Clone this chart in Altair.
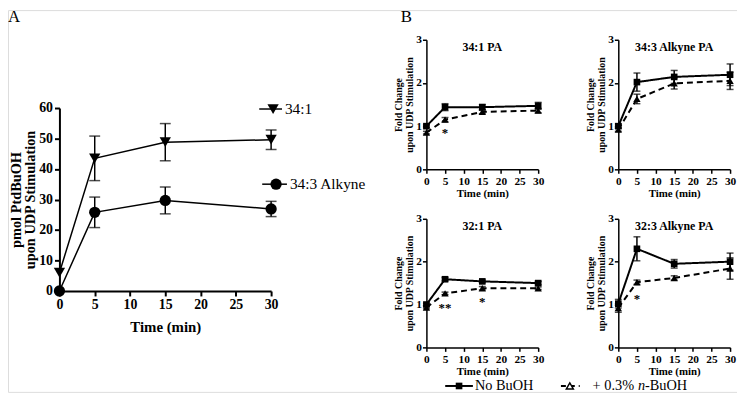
import altair as alt
import pandas as pd

SERIF = "Liberation Serif"
W, H = 737, 386   # whole drawing (page coords minus the 8px margin)

# ---------------- Panel A data ----------------
a_time = [0, 5, 15, 30]
a_series = ["34:1", "34:3 Alkyne"]
a_341_mean = [6.0, 43.5, 48.8, 49.6]
a_341_err = [0.0, 7.3, 6.1, 3.2]
a_343_mean = [0.0, 25.8, 29.7, 26.9]
a_343_err = [0.0, 5.0, 4.4, 2.5]

# ---------------- Panel B data ----------------
b_time = [0, 5, 15, 30]
b_groups = ["No BuOH", "+ 0.3% n-BuOH"]
b_titles = ["34:1 PA", "34:3 Alkyne PA", "32:1 PA", "32:3 Alkyne PA"]
b_no_mean = [[1.0, 1.44, 1.44, 1.47], [1.0, 2.02, 2.14, 2.19],
             [1.0, 1.59, 1.54, 1.50], [1.02, 2.30, 1.95, 2.00]]
b_no_err = [[0.03, 0.08, 0.06, 0.08], [0.05, 0.21, 0.15, 0.25],
            [0.03, 0.04, 0.03, 0.04], [0.10, 0.28, 0.10, 0.20]]
b_bu_mean = [[0.85, 1.15, 1.33, 1.36], [0.92, 1.63, 1.99, 2.05],
             [0.93, 1.26, 1.38, 1.38], [0.92, 1.52, 1.62, 1.84]]
b_bu_err = [[0.03, 0.05, 0.04, 0.05], [0.04, 0.11, 0.13, 0.20],
            [0.03, 0.03, 0.04, 0.03], [0.10, 0.05, 0.05, 0.25]]
star_panel = [0, 2, 2, 3]
star_time = [5, 5, 15, 5]
star_y = [0.93, 1.02, 1.15, 1.22]
star_text = ["*", "**", "*", "*"]

one = pd.DataFrame({"k": [0]})

# plot-area frames inside the drawing: (left, right, bottom, top)
FRAME_A = (52, 266, 284, 99)
FRAMES_B = [(423, 536, 161, 30), (617, 730, 161, 30),
            (423, 536, 341, 211), (617, 730, 341, 211)]


def label(text, x, y, size, align="left", baseline="middle", weight="normal", style="normal"):
    return alt.Chart(one).mark_text(text=text, align=align, baseline=baseline, font=SERIF,
                                    fontSize=size, fontWeight=weight, fontStyle=style,
                                    color="black").encode(x=alt.value(x), y=alt.value(y))


def axis_common(**kw):
    base = dict(labelFont=SERIF, labelFontWeight="bold", titleFont=SERIF, titleFontWeight="bold",
                domainColor="black", tickColor="black", labelColor="black", titleColor="black",
                grid=False, labelFlush=False, labelOverlap=False)
    base.update(kw)
    return alt.Axis(**base)


# ---------------- Panel A ----------------
rowsA = []
for s, means, errs in [(a_series[0], a_341_mean, a_341_err),
                       (a_series[1], a_343_mean, a_343_err)]:
    for t, m, e in zip(a_time, means, errs):
        rowsA.append({"time": t, "value": m, "lo": m - e, "hi": m + e,
                      "err": e, "series": s})
dfA = pd.DataFrame(rowsA)

L, R, B, T = FRAME_A
axA_x = axis_common(orient="bottom", offset=B - H, values=[0, 5, 10, 15, 20, 25, 30],
                    title="Time (min)", labelFontSize=14, titleFontSize=15,
                    domainWidth=2, tickWidth=2, tickSize=5, labelPadding=2, titlePadding=8)
axA_y = axis_common(orient="left", offset=-L, values=[0, 10, 20, 30, 40, 50, 60],
                    title=["pmol PtdBuOH", "upon UDP Stimulation"],
                    labelFontSize=14, titleFontSize=14.5, titleLineHeight=14,
                    domainWidth=2, tickWidth=2, tickSize=5, labelPadding=2, titlePadding=1)


def xA():
    return alt.X("time:Q", scale=alt.Scale(domain=[0, 30], range=[L, R], nice=False), axis=axA_x)


def yA(field):
    return alt.Y(field, scale=alt.Scale(domain=[0, 60], range=[B, T], nice=False), axis=axA_y)


baseA = alt.Chart(dfA).encode(x=xA())
lineA = baseA.mark_line(color="black", strokeWidth=1.5).encode(y=yA("value:Q"), detail="series:N")
errA = baseA.transform_filter("datum.err > 0").mark_rule(color="black", strokeWidth=1.5).encode(
    y=yA("lo:Q"), y2="hi:Q")
capLoA = baseA.transform_filter("datum.err > 0").mark_tick(
    orient="horizontal", color="black", thickness=1.5, size=11).encode(y=yA("lo:Q"))
capHiA = baseA.transform_filter("datum.err > 0").mark_tick(
    orient="horizontal", color="black", thickness=1.5, size=11).encode(y=yA("hi:Q"))
ptsA = baseA.mark_point(filled=True, color="black", opacity=1, size=130).encode(
    y=yA("value:Q"),
    shape=alt.Shape("series:N", scale=alt.Scale(domain=a_series, range=["triangle-down", "circle"]),
                    legend=None))

legA = [label("A", 0, 12, 17, baseline="alphabetic")]
for yy, x0, x1, xs, shp, lab in [(100, 254, 277, 268, "triangle-down", a_series[0]),
                                 (176, 257, 282, 271, "circle", a_series[1])]:
    legA.append(alt.Chart(one).mark_rule(color="black", strokeWidth=1.5).encode(
        x=alt.value(x0), x2=alt.value(x1), y=alt.value(yy)))
    legA.append(alt.Chart(one).mark_point(shape=shp, filled=True, color="black", opacity=1, size=130).encode(
        x=alt.value(xs), y=alt.value(yy)))
    legA.append(label(lab, x1 + 3, yy, 15.5))

panelA = alt.layer(lineA, errA, capLoA, capHiA, ptsA, *legA)


# ---------------- Panel B ----------------
def panel_b(i, extra=()):
    L, R, B, T = FRAMES_B[i]
    ax_x = axis_common(orient="bottom", offset=B - H, values=[0, 5, 10, 15, 20, 25, 30],
                       title="Time (min)", labelFontSize=11.5, titleFontSize=11,
                       domainWidth=1.5, tickWidth=1.5, tickSize=4, labelPadding=2, titlePadding=1)
    ax_y = axis_common(orient="left", offset=-L, values=[0, 1, 2, 3],
                       title=["Fold Change", "upon UDP Stimulation"],
                       labelFontSize=11.5, titleFontSize=10, titleLineHeight=11,
                       domainWidth=1.5, tickWidth=1.5, tickSize=4, labelPadding=1, titlePadding=1)

    def xB():
        return alt.X("time:Q", scale=alt.Scale(domain=[0, 30], range=[L, R], nice=False), axis=ax_x)

    def yB(field):
        return alt.Y(field, scale=alt.Scale(domain=[0, 3], range=[B, T], nice=False), axis=ax_y)

    rows = []
    for g, means, errs in [(b_groups[0], b_no_mean[i], b_no_err[i]),
                           (b_groups[1], b_bu_mean[i], b_bu_err[i])]:
        for t, m, e in zip(b_time, means, errs):
            rows.append({"time": t, "value": m, "lo": m - e, "hi": m + e, "group": g})
    df = pd.DataFrame(rows)
    base = alt.Chart(df).encode(x=xB())
    line = base.mark_line(color="black", strokeWidth=2).encode(
        y=yB("value:Q"), detail="group:N",
        strokeDash=alt.StrokeDash("group:N", scale=alt.Scale(domain=b_groups, range=[[1, 0], [6, 4]]),
                                  legend=None))
    err = base.mark_rule(color="black", strokeWidth=1.5).encode(y=yB("lo:Q"), y2="hi:Q")
    capLo = base.mark_tick(orient="horizontal", color="black", thickness=1.5, size=7).encode(y=yB("lo:Q"))
    capHi = base.mark_tick(orient="horizontal", color="black", thickness=1.5, size=7).encode(y=yB("hi:Q"))
    pts = base.mark_point(filled=True, color="black", opacity=1).encode(
        y=yB("value:Q"),
        shape=alt.Shape("group:N", scale=alt.Scale(domain=b_groups, range=["square", "triangle-up"]),
                        legend=None),
        size=alt.Size("group:N", scale=alt.Scale(domain=b_groups, range=[45, 55]), legend=None))
    sdf = pd.DataFrame({"time": [t for p, t in zip(star_panel, star_time) if p == i],
                        "value": [v for p, v in zip(star_panel, star_y) if p == i],
                        "txt": [s for p, s in zip(star_panel, star_text) if p == i]})
    layers = [line, err, capLo, capHi, pts]
    if len(sdf):
        stars = alt.Chart(sdf).mark_text(font=SERIF, fontSize=13, fontWeight="bold", color="black",
                                         baseline="middle", dy=4).encode(
            x=xB(), y=yB("value:Q"), text="txt:N")
        layers.append(stars)
    layers.append(label(b_titles[i], (L + R) / 2, T + 7, 12, align="center", weight="bold"))
    layers.extend(extra)
    return alt.layer(*layers)


# bottom legend of panel B
LY = 380
legB = [
    label("B", 397, 12, 17, baseline="alphabetic"),
    alt.Chart(one).mark_rule(color="black", strokeWidth=2).encode(
        x=alt.value(442), x2=alt.value(470), y=alt.value(LY)),
    alt.Chart(one).mark_point(shape="square", filled=True, color="black", opacity=1, size=45).encode(
        x=alt.value(456), y=alt.value(LY)),
    label(b_groups[0], 472, LY, 14.5),
    alt.Chart(one).mark_rule(color="black", strokeWidth=2, strokeDash=[5, 4]).encode(
        x=alt.value(559), x2=alt.value(578), y=alt.value(LY)),
    alt.Chart(one).mark_point(shape="triangle-up", filled=True, color="white", opacity=1, size=50).encode(
        x=alt.value(568), y=alt.value(LY)),
    alt.Chart(one).mark_point(shape="triangle-up", filled=False, color="black", strokeWidth=1.5,
                              opacity=1, size=50).encode(x=alt.value(568), y=alt.value(LY)),
    label("+ 0.3%", 591, LY, 14.5),
    label("n", 637, LY, 14.5, style="italic"),
    label("-BuOH", 644, LY, 14.5),
]

panels = [panelA] + [panel_b(i, legB if i == 3 else ()) for i in range(4)]

chart = alt.layer(*panels).resolve_scale(
    x="independent", y="independent", shape="independent", strokeDash="independent",
    size="independent"
).resolve_axis(x="independent", y="independent").properties(
    width=W, height=H, padding=0, autosize=alt.AutoSizeParams(type="none")
).configure_view(stroke=None).configure(font=SERIF, background="white")

chart.save("out.html", embed_options={"renderer": "svg", "actions": False})
